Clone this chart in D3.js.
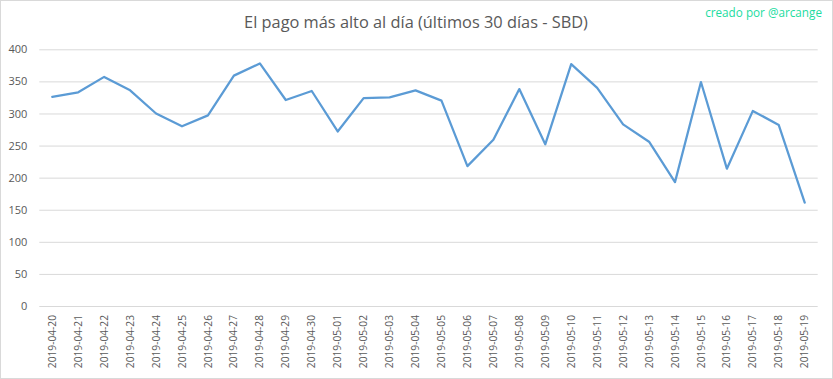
<!DOCTYPE html>
<html><head><meta charset="utf-8">
<script src="https://cdn.jsdelivr.net/npm/d3@7/dist/d3.min.js"></script>
<style>body{margin:0;background:#fff}svg{display:block}</style>
</head><body>
<script>
const dates = ["2019-04-20","2019-04-21","2019-04-22","2019-04-23","2019-04-24","2019-04-25","2019-04-26","2019-04-27","2019-04-28","2019-04-29","2019-04-30","2019-05-01","2019-05-02","2019-05-03","2019-05-04","2019-05-05","2019-05-06","2019-05-07","2019-05-08","2019-05-09","2019-05-10","2019-05-11","2019-05-12","2019-05-13","2019-05-14","2019-05-15","2019-05-16","2019-05-17","2019-05-18","2019-05-19"];
const values = [326,333,357,336,300,280,297,359,378,321,335,272,324,325,336,320,218,259,338,252,377,340,283,256,193,349,214,304,282,161];
const yTicks = [0,50,100,150,200,250,300,350,400];
const title = "El pago más alto al día (últimos 30 días - SBD)";
const credit = "creado por @arcange";

(function(){
const W = 833, H = 379;
const svg = d3.select("body").append("svg").attr("width", W).attr("height", H);
svg.append("rect").attr("x",0.5).attr("y",0.5).attr("width",W-1).attr("height",H-1)
  .attr("fill","#fff").attr("stroke","#d9d9d9");

const mLeft = 39.3, mRight = 817.7, mTop = 49.3, mBottom = 306;
const x = d3.scaleBand().domain(dates).range([mLeft, mRight]);
const y = d3.scaleLinear().domain([0,400]).range([mBottom, mTop]);
const font = "'Open Sans', sans-serif";

const yAxis = d3.axisLeft(y).tickValues(yTicks).tickSize(-(mRight-mLeft)).tickPadding(12);
const gy = svg.append("g").attr("transform",`translate(${mLeft},0)`).call(yAxis);
gy.select(".domain").remove();
gy.selectAll(".tick line").attr("stroke","#d9d9d9").attr("stroke-width",1);
gy.selectAll(".tick text").attr("fill","#595959").style("font-family",font).style("font-size","11px");

const xAxis = d3.axisBottom(x).tickSize(0).tickPadding(0);
const gx = svg.append("g").attr("transform",`translate(0,${mBottom})`).call(xAxis);
gx.select(".domain").remove();
gx.selectAll(".tick text")
  .attr("fill","#595959").style("font-family",font).style("font-size","10.2px")
  .attr("text-anchor","end").attr("transform","rotate(-90)")
  .attr("x",-9).attr("y",0).attr("dy","0.35em");

const line = d3.line().x((d,i)=>x(dates[i]) + x.bandwidth()/2).y(d=>y(d));
svg.append("path").datum(values).attr("d",line).attr("fill","none")
  .attr("stroke","#5b9bd5").attr("stroke-width",2.25).attr("stroke-linejoin","round").attr("stroke-linecap","round");

const t = svg.append("text").attr("x",416).attr("y",28).attr("text-anchor","middle")
  .attr("fill","#595959").style("font-family",font).style("font-size","17px").text(title);
const tw = t.node().getComputedTextLength();
t.style("font-size", (17*344/tw)+"px");

const c = svg.append("text").attr("x",822).attr("y",17).attr("text-anchor","end")
  .attr("fill","#1ddc9f").style("font-family",font).style("font-size","11px").text(credit);
const cw = c.node().getComputedTextLength();
c.style("font-size", (11*117/cw)+"px");
})();
</script>
</body></html>
